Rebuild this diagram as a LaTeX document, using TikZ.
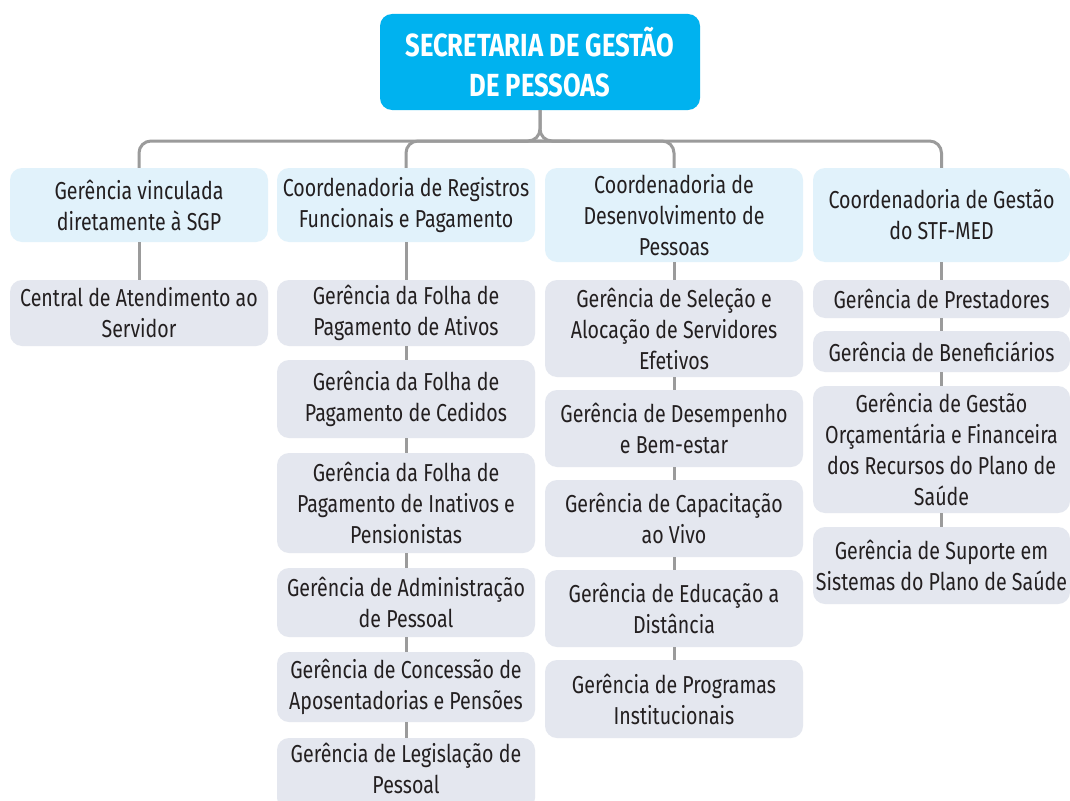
\documentclass[tikz,border=0pt]{standalone}
\usepackage{fontspec}
\setmainfont{Fira Sans}[FakeStretch=0.8]
\definecolor{topblue}{HTML}{00B2EF}
\definecolor{lightblue}{HTML}{E1F2FB}
\definecolor{lightgray}{HTML}{E4E7EF}
\definecolor{linegray}{HTML}{9B9B9B}
\definecolor{txt}{HTML}{231F20}
\tikzset{
  box/.style={rounded corners=12pt, inner sep=0pt, align=center, text=txt,
    font=\fontsize{24.5}{31}\selectfont},
  topbox/.style={box, fill=topblue, text=white, font=\fontsize{32}{40}\bfseries\selectfont},
  lone/.style={box, fill=lightblue},
  ltwo/.style={box, fill=lightgray},
  conn/.style={draw=linegray, line width=3pt}
}
\begin{document}
\begin{tikzpicture}[x=1pt,y=-1pt]
\clip (0,0) rectangle (1070,800);
\fill[white] (0,0) rectangle (1070,800);
% top
\node[topbox, minimum width=320, minimum height=96] (top) at (540,62) {SECRETARIA DE GESTÃO\\DE PESSOAS};
\coordinate (hub) at (540,141);
% level 1
\node[lone, minimum width=258, minimum height=74] (h1) at (139,205) {Gerência vinculada\\diretamente à SGP};
\node[lone, minimum width=258, minimum height=74] (h2) at (406,205) {Coordenadoria de Registros\\Funcionais e Pagamento};
\node[lone, minimum width=258, minimum height=94] (h3) at (674,215) {Coordenadoria de\\Desenvolvimento de\\Pessoas};
\node[lone, minimum width=257, minimum height=94] (h4) at (941.5,215) {Coordenadoria de Gestão\\do STF-MED};
% column 1
\node[ltwo, minimum width=258, minimum height=66] (a1) at (139,313) {Central de Atendimento ao\\Servidor};
% column 2
\node[ltwo, minimum width=258, minimum height=66] (b1) at (406,313) {Gerência da Folha de\\Pagamento de Ativos};
\node[ltwo, minimum width=258, minimum height=78] (b2) at (406,399) {Gerência da Folha de\\Pagamento de Cedidos};
\node[ltwo, minimum width=258, minimum height=100] (b3) at (406,503) {Gerência da Folha de\\Pagamento de Inativos e\\Pensionistas};
\node[ltwo, minimum width=258, minimum height=69] (b4) at (406,602.5) {Gerência de Administração\\de Pessoal};
\node[ltwo, minimum width=258, minimum height=70] (b5) at (406,687) {Gerência de Concessão de\\Aposentadorias e Pensões};
\node[ltwo, minimum width=258, minimum height=72] (b6) at (406,774) {};
\node[box] (b6t) at (406,768) {Gerência de Legislação de\\Pessoal};
% column 3
\node[ltwo, minimum width=258, minimum height=97] (c1) at (674,328.5) {Gerência de Seleção e\\Alocação de Servidores\\Efetivos};
\node[ltwo, minimum width=258, minimum height=77] (c2) at (674,428.5) {Gerência de Desempenho\\e Bem-estar};
\node[ltwo, minimum width=258, minimum height=77] (c3) at (674,518.5) {Gerência de Capacitação\\ao Vivo};
\node[ltwo, minimum width=258, minimum height=77] (c4) at (674,608.5) {Gerência de Educação a\\Distância};
\node[ltwo, minimum width=258, minimum height=78] (c5) at (674,699) {Gerência de Programas\\Institucionais};
% column 4
\node[ltwo, minimum width=257, minimum height=38] (d1) at (941.5,299) {Gerência de Prestadores};
\node[ltwo, minimum width=257, minimum height=41] (d2) at (941.5,351.5) {Gerência de Beneficiários};
\node[ltwo, minimum width=257, minimum height=127] (d3) at (941.5,449.5) {Gerência de Gestão\\Orçamentária e Financeira\\dos Recursos do Plano de\\Saúde};
\node[ltwo, minimum width=257, minimum height=77] (d4) at (941.5,565.5) {Gerência de Suporte em\\Sistemas do Plano de Saúde};
% connectors
\begin{scope}[conn, rounded corners=12pt]
\draw (top.south) |- ([xshift=-30pt]hub);
\draw (top.south) |- ([xshift=30pt]hub);
\draw (h1.north) |- (hub);
\draw (h2.north) |- (hub);
\draw (h3.north) |- (hub);
\draw (h4.north) |- (hub);
\end{scope}
\draw[conn] (h1.south) -- (a1.north);
\draw[conn] (h2.south) -- (b1.north);
\draw[conn] (b1.south) -- (b2.north);
\draw[conn] (b2.south) -- (b3.north);
\draw[conn] (b3.south) -- (b4.north);
\draw[conn] (b4.south) -- (b5.north);
\draw[conn] (b5.south) -- (b6.north);
\draw[conn] (h3.south) -- (c1.north);
\draw[conn] (c1.south) -- (c2.north);
\draw[conn] (c2.south) -- (c3.north);
\draw[conn] (c3.south) -- (c4.north);
\draw[conn] (c4.south) -- (c5.north);
\draw[conn] (h4.south) -- (d1.north);
\draw[conn] (d1.south) -- (d2.north);
\draw[conn] (d2.south) -- (d3.north);
\draw[conn] (d3.south) -- (d4.north);
\end{tikzpicture}
\end{document}
